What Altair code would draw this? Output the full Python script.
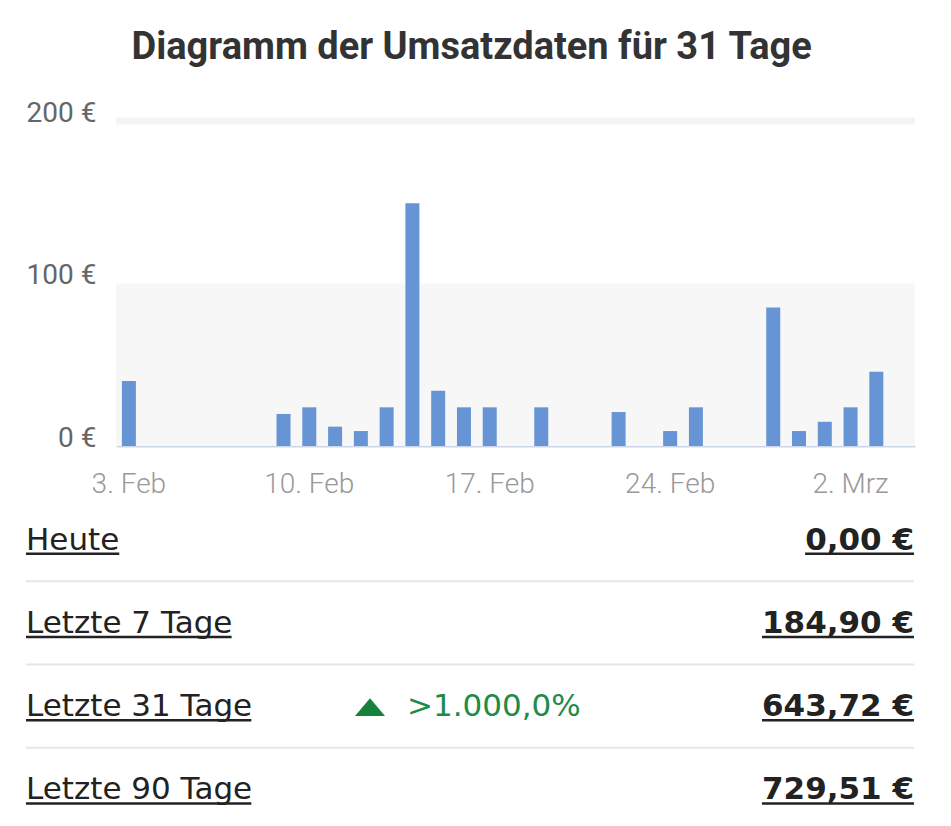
import altair as alt
import pandas as pd

# ---------------- data ----------------
days = [
    "3. Feb", "4. Feb", "5. Feb", "6. Feb", "7. Feb", "8. Feb", "9. Feb",
    "10. Feb", "11. Feb", "12. Feb", "13. Feb", "14. Feb", "15. Feb", "16. Feb",
    "17. Feb", "18. Feb", "19. Feb", "20. Feb", "21. Feb", "22. Feb", "23. Feb",
    "24. Feb", "25. Feb", "26. Feb", "27. Feb", "28. Feb", "29. Feb",
    "1. Mrz", "2. Mrz", "3. Mrz", "4. Mrz",
]
sales = [
    40.0, 0, 0, 0, 0, 0, 19.7,
    23.8, 11.9, 9.2, 23.8, 149.4, 34.0, 23.8,
    23.8, 0, 23.8, 0, 0, 20.9, 0,
    9.2, 23.8, 0, 0, 85.3, 9.2,
    14.9, 23.8, 45.7, 0,
]
x_tick_labels = ["3. Feb", "10. Feb", "17. Feb", "24. Feb", "2. Mrz"]
y_ticks = [0, 100, 200]
band_lo = [0]
band_hi = [100]
top_grid = [200]

rows = ["Heute", "Letzte 7 Tage", "Letzte 31 Tage", "Letzte 90 Tage"]
totals = ["0,00 €", "184,90 €", "643,72 €", "729,51 €"]
changes = ["", "", ">1.000,0%", ""]

# ---------------- styling helpers ----------------
TABLE_FONT = "DejaVu Sans"
TABLE_SIZE = 31
PLOT_W = 799
PLOT_H = 325
LEFT = -90          # table starts left of the plot origin
RIGHT = PLOT_W - 1  # right edge of the table

# DejaVu Sans advance widths (units per 2048 em) for underline lengths
REG = {" ": 651, ",": 651, ".": 651, "€": 1303, "H": 1540, "L": 1141, "T": 1251,
       "a": 1255, "e": 1260, "g": 1300, "t": 803, "u": 1298, "z": 1075}
BOLD = {" ": 713, ",": 780, ".": 780, "€": 1425}
KERN = {"Ta": -430}


def text_width(s, bold=False):
    table = BOLD if bold else REG
    digit = 1425 if bold else 1303
    total = 0
    for i, ch in enumerate(s):
        if ch.isdigit():
            total += digit
        else:
            total += table.get(ch, 1300)
        if i > 0 and not bold:
            total += KERN.get(s[i - 1] + ch, 0)
    return total / 2048 * TABLE_SIZE


sales_df = pd.DataFrame({"day": days, "sales": sales})
yscale = alt.Scale(domain=[0, 200], nice=False)
yaxis = alt.Axis(values=y_ticks, labelExpr="datum.value + ' €'", labelFont="Roboto",
                 labelFontSize=28, labelColor="#666666", labelBaseline="alphabetic",
                 labelOffset=0, labelPadding=20, ticks=False, domain=False, grid=False,
                 labelOverlap=False, title=None)

bands = alt.Chart(pd.DataFrame({"lo": band_lo, "hi": band_hi})).mark_rect(
    color="#f7f7f8").encode(
    x=alt.value(0), x2=alt.value("width"),
    y=alt.Y("lo:Q", scale=yscale, axis=yaxis), y2="hi:Q")

top_line = alt.Chart(pd.DataFrame({"v": top_grid})).mark_rule(
    color="#f4f4f5", strokeWidth=7).encode(
    y=alt.Y("v:Q", scale=yscale, axis=yaxis))

bars = alt.Chart(sales_df).mark_bar(color="#6694d4").encode(
    x=alt.X("day:N", sort=days,
            scale=alt.Scale(paddingInner=0.457, paddingOuter=0.2285),
            axis=alt.Axis(values=x_tick_labels, labelFont="Roboto", labelFontSize=28,
                          labelFontWeight=300, labelColor="#999999", labelPadding=24,
                          labelAngle=0, ticks=False, domainColor="#ccd6eb",
                          domainWidth=2, grid=False, labelOverlap=False, title=None)),
    y=alt.Y("sales:Q", scale=yscale, axis=yaxis),
)

bar_chart = alt.layer(bands, top_line, bars).properties(width=PLOT_W, height=PLOT_H)

# ---------------- table ----------------
tdf = pd.DataFrame({"row": rows, "total": totals, "change": changes})
tdf["lx1"] = LEFT
tdf["lx2"] = [LEFT + text_width(r) for r in rows]
tdf["vx1"] = [RIGHT - text_width(t, bold=True) for t in totals]
tdf["vx2"] = RIGHT

ysc = alt.Scale(paddingInner=0, paddingOuter=0)
Yrow = alt.Y("row:N", sort=rows, scale=ysc, axis=None)

tbase = alt.Chart(tdf)
labels = tbase.mark_text(align="left", baseline="alphabetic", dy=10, font=TABLE_FONT,
                         fontSize=TABLE_SIZE, color="#222222").encode(
    x=alt.value(LEFT), y=Yrow, text="row:N")
values = tbase.mark_text(align="right", baseline="alphabetic", dy=10, font=TABLE_FONT,
                         fontSize=TABLE_SIZE, fontWeight="bold", color="#222222").encode(
    x=alt.value(RIGHT), y=Yrow, text="total:N")
label_ul = tbase.mark_rule(color="#222222", strokeWidth=2.5, yOffset=14).encode(
    x=alt.X("lx1:Q", scale=None), x2="lx2:Q", y=Yrow)
value_ul = tbase.mark_rule(color="#222222", strokeWidth=2.5, yOffset=14).encode(
    x=alt.X("vx1:Q", scale=None), x2="vx2:Q", y=Yrow)

chg = tbase.transform_filter("datum.change != ''")
change_txt = chg.mark_text(align="left", baseline="alphabetic", dy=10, font=TABLE_FONT,
                           fontSize=TABLE_SIZE, color="#1c8c48").encode(
    x=alt.value(291), y=Yrow, text="change:N")
triangle = chg.mark_point(shape="M-1,0.59L1,0.59L0,-0.59Z", filled=True, size=900,
                          opacity=1, color="#17803d", yOffset=1).encode(
    x=alt.value(254), y=Yrow)

seps = tbase.transform_filter(alt.FieldOneOfPredicate(field="row", oneOf=rows[1:])).mark_rule(
    color="#e6e6e6", strokeWidth=2).encode(
    x=alt.value(LEFT), x2=alt.value(RIGHT),
    y=alt.Y("row:N", sort=rows, scale=ysc, axis=None, bandPosition=0))

table_chart = alt.layer(seps, label_ul, value_ul, labels, values, triangle, change_txt).properties(
    width=PLOT_W, height=333)

chart = alt.vconcat(bar_chart, table_chart, spacing=0).properties(
    title=alt.TitleParams("Diagramm der Umsatzdaten für 31 Tage", font="Roboto", fontSize=38,
                          fontWeight="bold", color="#333333", anchor="middle", offset=32),
    padding={"left": 24, "top": 29, "right": 20, "bottom": 0},
    background="white",
).configure_view(stroke=None)

chart.save("out.html", embed_options={"renderer": "svg", "actions": False})
